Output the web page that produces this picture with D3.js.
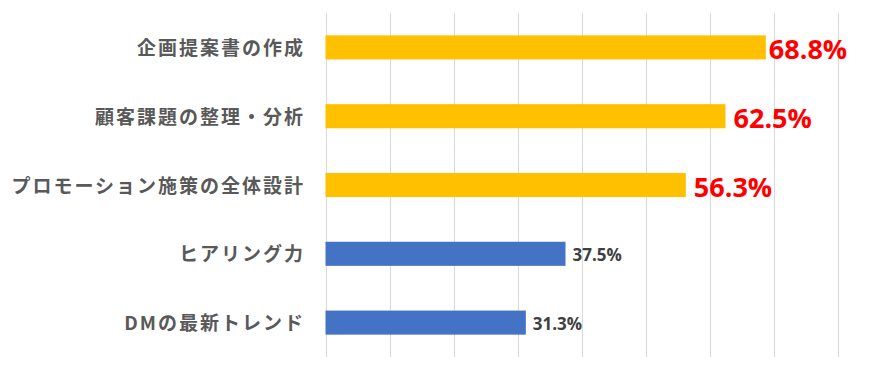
<!DOCTYPE html>
<html><head><meta charset="utf-8">
<script src="https://cdn.jsdelivr.net/npm/d3@7"></script>
<style>html,body{margin:0;padding:0;background:#fff;}</style>
</head><body>
<svg id="chart" width="880" height="368"></svg>
<script>
const categories = ["企画提案書の作成","顧客課題の整理・分析","プロモーション施策の全体設計","ヒアリング力","DMの最新トレンド"];
const values = [68.8, 62.5, 56.3, 37.5, 31.3];
const highlighted = [true, true, true, false, false];
const gridTicks = [0,10,20,30,40,50,60,70,80];

(function(){
const svg = d3.select("#chart");
const mLeft = 325.5, mRight = 837.5, mTop = 13, mBottom = 357;
const x = d3.scaleLinear().domain([0,80]).range([mLeft,mRight]);
const y = d3.scaleBand().domain(categories).range([mTop,mBottom]).paddingInner(0.65).paddingOuter(0.325);

svg.append("g").selectAll("line").data(gridTicks).join("line")
  .attr("x1",d=>Math.round(x(d))+0.5).attr("x2",d=>Math.round(x(d))+0.5)
  .attr("y1",mTop).attr("y2",mBottom)
  .attr("stroke","#d9d9d9").attr("stroke-width",1);

const rows = categories.map((c,i)=>({c, v:values[i], h:highlighted[i], i}));

svg.append("g").selectAll("rect").data(rows).join("rect")
  .attr("x",x(0)).attr("y",d=>y(d.c))
  .attr("width",d=>x(d.v)-x(0)).attr("height",y.bandwidth())
  .attr("fill",d=>d.h?"#FFC000":"#4472C4");

svg.append("g").selectAll("text").data(rows).join("text")
  .attr("x",305).attr("y",d=>y(d.c)+y.bandwidth()/2-1)
  .attr("text-anchor","end").attr("dominant-baseline","central")
  .attr("font-family","'Noto Sans CJK JP', sans-serif").attr("font-weight","bold")
  .attr("font-size",19).attr("letter-spacing","2px").attr("fill","#595959")
  .text(d=>d.c);

svg.append("g").selectAll("text").data(rows).join("text")
  .attr("x",d=>x(d.v)+(d.h?(d.i===0?3:8):7)).attr("y",d=>y(d.c)+y.bandwidth()/2+1)
  .attr("dominant-baseline","central")
  .attr("font-family","'Open Sans', 'Noto Sans CJK JP', sans-serif").attr("font-weight","bold")
  .attr("font-size",d=>d.h?27:17)
  .attr("fill",d=>d.h?"#FF0000":"#404040")
  .text(d=>d.v.toFixed(1)+"%");
})();
</script>
</body></html>
